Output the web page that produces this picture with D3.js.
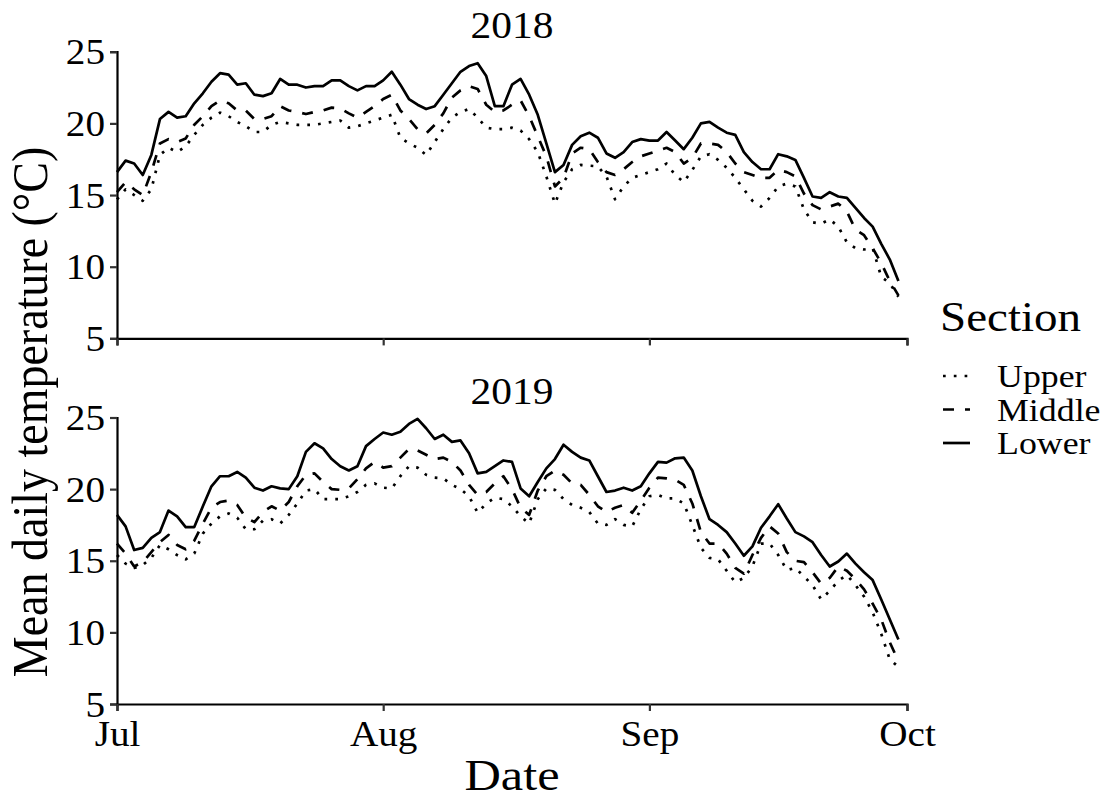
<!DOCTYPE html>
<html>
<head>
<meta charset="utf-8">
<script src="https://cdn.jsdelivr.net/npm/d3@7"></script>
<style>
  body { margin: 0; background: #fff; }
  text { font-family: "Liberation Serif", "Times New Roman", serif; fill: #000; }
</style>
</head>
<body>
<svg id="chart" width="1108" height="803"></svg>
<script>
// Daily mean water temperature (°C), 1 July – 30 September, by river section.
const years = ["2018", "2019"];
const sections = ["Upper", "Middle", "Lower"];
const monthLabels = ["Jul", "Aug", "Sep", "Oct"];
const yTickValues = [5, 10, 15, 20, 25];

const upper2018 = [14.7,15.4,15.0,14.6,15.4,17.8,18.3,18.0,18.4,19.2,19.9,20.4,20.75,20.5,20.1,19.8,19.4,19.4,19.9,20.1,
  20.0,19.9,19.9,19.9,20.0,20.1,20.2,19.7,19.8,20.0,20.2,20.4,20.6,19.0,18.6,18.3,17.8,18.7,19.6,20.4,
  20.8,21.0,20.4,19.7,19.6,19.6,19.7,19.5,18.9,18.0,16.3,14.4,15.9,16.8,17.1,17.05,17.0,16.3,14.7,15.6,
  16.2,16.4,16.6,16.8,17.2,16.4,15.9,16.75,17.7,17.85,17.45,16.9,16.2,15.4,14.6,14.2,14.8,15.6,15.8,15.6,
  14.0,13.1,13.0,13.3,12.8,11.7,11.3,11.2,11.3,9.3,8.85,7.9];
const middle2018 = [15.2,15.9,15.4,15.0,16.6,18.6,18.9,18.7,18.95,19.9,20.5,21.2,21.6,21.4,20.9,20.9,20.3,20.3,20.5,21.2,
  20.9,20.8,20.65,20.8,20.9,21.1,21.05,20.7,20.4,20.8,21.2,21.7,22.0,20.9,20.3,19.6,19.3,19.9,20.7,21.8,
  22.3,22.6,22.4,21.3,20.8,20.9,21.3,21.6,20.5,19.1,17.7,15.6,16.2,17.9,18.3,18.2,17.3,16.6,16.4,16.8,
  17.3,17.7,17.9,18.1,18.3,18.0,17.2,17.6,18.6,18.6,18.5,18.0,17.2,16.6,16.4,16.2,16.2,16.75,16.6,16.3,
  15.1,14.3,14.0,14.2,14.4,13.85,12.6,12.2,11.3,10.25,9.0,8.0];
const lower2018 = [16.6,17.4,17.2,16.4,17.8,20.3,20.8,20.4,20.5,21.4,22.1,22.9,23.5,23.4,22.7,22.8,22.0,21.9,22.1,23.1,
  22.7,22.7,22.5,22.6,22.6,23.0,23.0,22.6,22.3,22.6,22.6,23.0,23.6,22.7,21.7,21.3,21.0,21.2,22.0,22.8,
  23.6,24.0,24.2,23.3,21.2,21.2,22.7,23.1,22.0,20.6,18.6,16.6,17.1,18.5,19.1,19.35,19.0,17.9,17.6,18.0,
  18.7,18.9,18.8,18.8,19.4,18.8,18.2,19.0,20.0,20.1,19.7,19.35,19.2,18.0,17.3,16.8,16.8,17.85,17.7,17.45,
  16.2,14.9,14.8,15.2,14.9,14.8,14.1,13.4,12.8,11.6,10.5,9.0];

const upper2019 = [15.4,14.8,14.5,14.7,15.2,16.1,15.8,15.4,15.1,15.5,16.9,17.6,18.1,18.3,18.0,17.2,17.2,17.8,17.9,17.6,
  18.2,19.0,19.9,20.0,19.3,19.3,19.3,19.5,19.8,20.3,20.4,20.1,20.05,20.9,21.6,21.5,21.0,20.8,20.75,20.3,
  20.0,19.5,18.35,19.0,19.4,19.3,18.8,18.1,17.6,19.3,20.05,19.95,19.3,18.9,18.7,18.4,17.6,17.5,17.9,17.5,
  17.4,18.6,19.5,19.6,19.35,19.35,19.0,17.5,15.9,15.2,15.1,14.3,13.5,13.8,14.6,16.2,16.2,15.4,14.35,14.5,
  13.9,13.3,12.3,12.9,13.6,14.0,13.3,12.5,11.4,9.9,8.1,7.6];
const middle2019 = [16.2,15.5,14.6,14.9,15.6,16.3,16.8,16.1,15.8,16.4,17.6,18.7,19.1,19.2,18.9,18.0,17.7,18.4,18.8,18.5,
  19.1,20.2,21.0,21.1,20.5,20.0,19.95,20.05,20.7,21.45,21.9,21.5,21.6,22.2,22.8,22.7,22.4,22.1,22.2,21.9,
  21.3,20.3,19.6,19.8,20.4,20.9,20.0,18.7,18.2,19.9,20.9,21.3,21.0,20.4,20.3,19.6,18.8,18.4,18.7,18.9,
  18.35,19.2,20.1,20.8,20.75,20.65,20.3,19.0,17.0,16.2,16.2,15.5,14.5,14.1,15.4,16.6,17.4,16.9,15.6,15.0,
  14.9,14.2,13.4,13.8,14.6,14.3,13.7,13.0,12.0,10.9,9.3,8.0];
const lower2019 = [18.2,17.4,15.75,15.9,16.6,17.0,18.5,18.1,17.35,17.35,18.8,20.2,20.9,20.9,21.2,20.8,20.1,19.9,20.2,20.05,
  20.0,20.9,22.6,23.2,22.85,22.1,21.6,21.3,21.6,23.0,23.5,23.95,23.8,24.0,24.55,24.9,24.25,23.5,23.8,23.3,
  23.4,22.5,21.1,21.2,21.6,22.0,21.9,20.05,19.5,20.5,21.45,22.1,23.1,22.6,22.2,22.0,20.9,19.8,19.9,20.1,
  19.9,20.2,21.1,21.9,21.85,22.15,22.2,21.3,19.5,17.9,17.5,17.0,16.2,15.35,16.0,17.3,18.1,18.95,17.95,17.0,
  16.7,16.3,15.4,14.6,14.95,15.5,14.8,14.2,13.65,12.3,10.9,9.5];

const seriesByYear = {
  "2018": { Upper: upper2018, Middle: middle2018, Lower: lower2018 },
  "2019": { Upper: upper2019, Middle: middle2019, Lower: lower2019 }
};

// Line widths and dash patterns for each section (dotted / dashed / solid).
const LW = 2.7;
const dashFor = { Upper: `${LW},${LW * 3}`, Middle: "11,11", Lower: null };

const svg = d3.select("#chart");
const SX = 1.12; // horizontal glyph stretch of the typeset text

const left = 117, right = 907;
const panels = [{ year: "2018", top: 51.7, bottom: 338.4, titleY: 38 },
                { year: "2019", top: 417.5, bottom: 704, titleY: 404 }];

// Shared time axis: day offsets mapped onto a common calendar year.
const base = Date.UTC(2000, 6, 1);
const dayDate = i => new Date(base + i * 864e5);
const x = d3.scaleUtc().domain([dayDate(0), new Date(Date.UTC(2000, 9, 1))]).range([left, right]);
const monthTicks = d3.utcMonth.range(new Date(Date.UTC(2000, 6, 1)), new Date(Date.UTC(2000, 9, 2)));

function stretchedText(g, tx, ty, str, size, anchor) {
  return g.append("text")
    .attr("transform", `translate(${tx},${ty}) scale(${SX},1)`)
    .attr("text-anchor", anchor || "start")
    .style("font-size", size + "px")
    .text(str);
}

panels.forEach((p, pi) => {
  const y = d3.scaleLinear().domain([5, 25]).range([p.bottom, p.top]);
  const g = svg.append("g");

  // Series lines
  const line = d3.line().x((d, i) => x(dayDate(i))).y(d => y(d));
  sections.forEach(s => {
    g.append("path")
      .datum(seriesByYear[p.year][s])
      .attr("d", line)
      .attr("fill", "none")
      .attr("stroke", "#000")
      .attr("stroke-width", LW)
      .attr("stroke-linejoin", "round")
      .attr("stroke-dasharray", dashFor[s]);
  });

  // Y axis
  const yAxis = g.append("g").attr("transform", `translate(${left},0)`)
    .call(d3.axisLeft(y).tickValues(yTickValues).tickSize(7).tickPadding(5).tickFormat(d3.format("d")));
  yAxis.select(".domain").attr("stroke", "#000").attr("stroke-width", 2.2);
  yAxis.selectAll(".tick line").attr("stroke", "#333").attr("stroke-width", 2.2);
  yAxis.selectAll(".tick text").remove();
  yAxis.selectAll(".tick").each(function(d) {
    stretchedText(d3.select(this), -12, 12, String(d), 35, "end");
  });

  // X axis
  const xAxis = g.append("g").attr("transform", `translate(0,${p.bottom})`)
    .call(d3.axisBottom(x).tickValues(monthTicks).tickSize(7).tickFormat(""));
  xAxis.select(".domain").attr("stroke", "#000").attr("stroke-width", 2.2);
  xAxis.selectAll(".tick line").attr("stroke", "#333").attr("stroke-width", 2.2);
  xAxis.selectAll(".tick text").remove();
  if (pi === 1) {
    xAxis.selectAll(".tick").each(function(d, i) {
      stretchedText(d3.select(this), 0, 42, monthLabels[i], 35, "middle");
    });
  }

  // Panel title
  stretchedText(g, (left + right) / 2, p.titleY, p.year, 37, "middle");
});

// Axis titles
stretchedText(svg, (left + right) / 2, 790, "Date", 45, "middle");
svg.append("text")
  .attr("transform", `translate(47,412) scale(${SX},1) rotate(-90)`)
  .attr("text-anchor", "middle")
  .style("font-size", "46px")
  .text("Mean daily temperature (°C)");

// Legend
const legend = svg.append("g");
stretchedText(legend, 940, 331, "Section", 42, "start");
sections.forEach((s, i) => {
  const cy = 376 + i * 33.5;
  legend.append("line")
    .attr("x1", 943).attr("x2", 970).attr("y1", cy).attr("y2", cy)
    .attr("stroke", "#000").attr("stroke-width", LW)
    .attr("stroke-dasharray", dashFor[s]);
  stretchedText(legend, 997, cy + 11, s, 32, "start");
});
</script>
</body>
</html>
